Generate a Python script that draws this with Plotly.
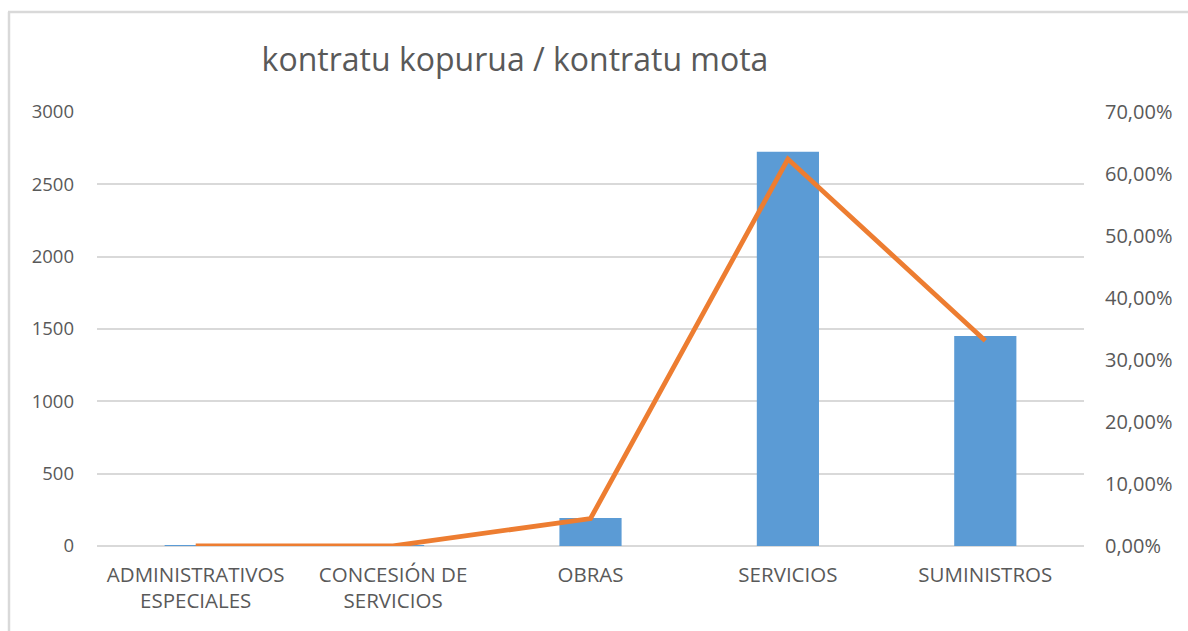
import plotly.graph_objects as go

categories = ["ADMINISTRATIVOS<br>ESPECIALES", "CONCESIÓN DE<br>SERVICIOS", "OBRAS", "SERVICIOS", "SUMINISTROS"]
counts = [1, 1, 194, 2726, 1452]
shares = [0.0002, 0.0002, 0.0443, 0.6241, 0.3312]
left_ticks = [0, 500, 1000, 1500, 2000, 2500, 3000]
right_ticks = [0, 0.1, 0.2, 0.3, 0.4, 0.5, 0.6, 0.7]

FONT = "Open Sans, sans-serif"
TXT = "#595959"

fig = go.Figure()
fig.add_trace(go.Bar(x=categories, y=counts, marker=dict(color="#5B9BD5", line=dict(width=0)),
                     width=0.315, yaxis="y", name="kopurua"))
fig.add_trace(go.Scatter(x=categories, y=shares, mode="lines", line=dict(color="#ED7D31", width=4.8),
                         yaxis="y2", name="%"))

fig.update_layout(
    width=1188, height=631,
    margin=dict(l=97, r=104, t=112, b=85),
    paper_bgcolor="white", plot_bgcolor="white",
    separators=",.",
    showlegend=False,
    font=dict(family=FONT, color=TXT, size=19),
    title=dict(text="kontratu kopurua / kontratu mota", x=515/1188, xanchor="center",
               y=1 - 60/631, yanchor="middle",
               font=dict(family=FONT, size=32, color=TXT)),
    xaxis=dict(showgrid=False, showline=False, ticks="", ticklabelstandoff=14,
               tickfont=dict(size=20.5, color=TXT)),
    yaxis=dict(range=[0, 3000], tickvals=left_ticks, showgrid=True, gridcolor="#D9D9D9", gridwidth=1.5,
               zeroline=True, zerolinecolor="#D9D9D9", zerolinewidth=2, showline=False, ticks="",
               ticklabelstandoff=22, tickfont=dict(size=18.5, color=TXT)),
    yaxis2=dict(range=[0, 0.7], tickvals=right_ticks, tickformat=".2%", overlaying="y", side="right",
                showgrid=False, zeroline=False, showline=False, ticks="", ticklabelstandoff=20,
                tickfont=dict(size=20, color=TXT)),
    bargap=0.685,
    shapes=[
        dict(type="line", xref="paper", yref="paper", x0=-89/987, x1=(1188-97)/987,
             y0=1 + 100/434, y1=1 + 100/434, line=dict(color="#D9D9D9", width=2.5)),
        dict(type="line", xref="paper", yref="paper", x0=-88/987, x1=-88/987,
             y0=1 + 100/434, y1=-85/434, line=dict(color="#D9D9D9", width=2.5)),
    ],
)

fig.write_html("out.html", config={"displayModeBar": False},
               post_script="document.body.style.margin='0';document.body.style.overflow='hidden';")
